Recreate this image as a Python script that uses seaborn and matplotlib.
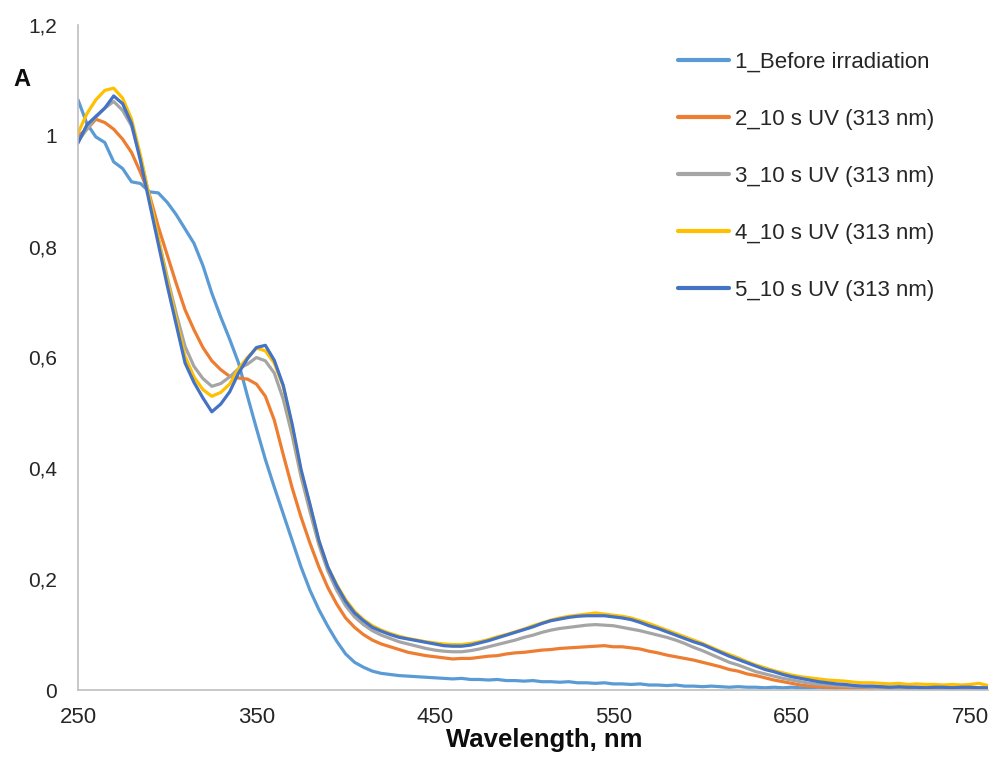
import numpy as np
import pandas as pd
import matplotlib
matplotlib.use("Agg")
import matplotlib.pyplot as plt
import seaborn as sns

# ---------------- data ----------------
wavelength = list(range(250, 761, 5))

before = [1.065, 1.022, 0.998, 0.988, 0.953, 0.941, 0.917, 0.914, 0.899, 0.897,
          0.880, 0.858, 0.832, 0.806, 0.766, 0.716, 0.673, 0.633, 0.590, 0.530,
          0.472, 0.416, 0.366, 0.318, 0.270, 0.222, 0.180, 0.145, 0.115, 0.088,
          0.065, 0.050, 0.041, 0.034, 0.030, 0.028, 0.026, 0.025, 0.024, 0.023,
          0.022, 0.021, 0.020, 0.021, 0.019, 0.019, 0.018, 0.019, 0.017, 0.017,
          0.016, 0.017, 0.015, 0.015, 0.014, 0.015, 0.013, 0.013, 0.012, 0.013,
          0.011, 0.011, 0.010, 0.011, 0.009, 0.009, 0.008, 0.009, 0.007, 0.007,
          0.006, 0.007, 0.006, 0.005, 0.006, 0.005, 0.005, 0.004, 0.005, 0.004,
          0.005, 0.004, 0.004, 0.005, 0.004, 0.003, 0.004, 0.003, 0.004, 0.003,
          0.004, 0.003, 0.003, 0.002, 0.003, 0.002, 0.003, 0.002, 0.002, 0.003,
          0.002, 0.002, 0.002]

uv2 = [1.000, 1.012, 1.030, 1.024, 1.012, 0.994, 0.970, 0.934, 0.894, 0.836,
       0.785, 0.734, 0.686, 0.650, 0.618, 0.594, 0.578, 0.566, 0.563, 0.561,
       0.552, 0.530, 0.487, 0.425, 0.365, 0.312, 0.265, 0.222, 0.185, 0.155,
       0.130, 0.113, 0.100, 0.090, 0.083, 0.078, 0.073, 0.068, 0.065, 0.062,
       0.060, 0.058, 0.056, 0.057, 0.057, 0.059, 0.061, 0.062, 0.065, 0.067,
       0.068, 0.070, 0.072, 0.073, 0.075, 0.076, 0.077, 0.078, 0.079, 0.080,
       0.078, 0.078, 0.076, 0.074, 0.070, 0.067, 0.063, 0.060, 0.057, 0.054,
       0.050, 0.046, 0.042, 0.037, 0.034, 0.029, 0.026, 0.022, 0.018, 0.015,
       0.012, 0.009, 0.007, 0.006, 0.005, 0.005, 0.004, 0.005, 0.004, 0.004,
       0.004, 0.003, 0.004, 0.003, 0.004, 0.003, 0.003, 0.004, 0.003, 0.003,
       0.004, 0.003, 0.003]

uv3 = [0.990, 1.012, 1.034, 1.050, 1.062, 1.046, 1.018, 0.960, 0.890, 0.815,
       0.745, 0.680, 0.620, 0.584, 0.562, 0.548, 0.553, 0.565, 0.580, 0.588,
       0.600, 0.594, 0.572, 0.525, 0.460, 0.385, 0.322, 0.262, 0.215, 0.180,
       0.152, 0.132, 0.118, 0.107, 0.099, 0.093, 0.087, 0.083, 0.079, 0.075,
       0.072, 0.070, 0.069, 0.069, 0.071, 0.074, 0.078, 0.082, 0.086, 0.090,
       0.095, 0.099, 0.104, 0.108, 0.111, 0.113, 0.115, 0.117, 0.118, 0.117,
       0.116, 0.113, 0.110, 0.107, 0.103, 0.099, 0.095, 0.090, 0.084, 0.077,
       0.071, 0.064, 0.057, 0.050, 0.045, 0.039, 0.033, 0.029, 0.025, 0.021,
       0.018, 0.015, 0.012, 0.010, 0.009, 0.008, 0.007, 0.006, 0.006, 0.005,
       0.005, 0.005, 0.004, 0.005, 0.004, 0.004, 0.005, 0.004, 0.004, 0.004,
       0.004, 0.004, 0.004]

uv4 = [1.005, 1.040, 1.065, 1.082, 1.086, 1.068, 1.030, 0.965, 0.890, 0.815,
       0.740, 0.670, 0.602, 0.565, 0.542, 0.530, 0.537, 0.552, 0.580, 0.600,
       0.617, 0.612, 0.590, 0.548, 0.475, 0.395, 0.333, 0.268, 0.222, 0.190,
       0.163, 0.142, 0.127, 0.116, 0.108, 0.102, 0.097, 0.093, 0.090, 0.087,
       0.085, 0.083, 0.082, 0.082, 0.084, 0.087, 0.091, 0.096, 0.100, 0.105,
       0.110, 0.116, 0.121, 0.126, 0.130, 0.133, 0.135, 0.137, 0.139, 0.137,
       0.135, 0.133, 0.130, 0.125, 0.120, 0.114, 0.108, 0.102, 0.096, 0.090,
       0.084, 0.077, 0.070, 0.064, 0.058, 0.051, 0.045, 0.040, 0.035, 0.031,
       0.027, 0.024, 0.022, 0.020, 0.018, 0.017, 0.016, 0.014, 0.013, 0.013,
       0.012, 0.011, 0.012, 0.010, 0.011, 0.010, 0.010, 0.009, 0.010, 0.009,
       0.010, 0.012, 0.008]

uv5 = [0.987, 1.020, 1.035, 1.050, 1.072, 1.058, 1.022, 0.955, 0.880, 0.805,
       0.730, 0.660, 0.590, 0.555, 0.527, 0.502, 0.516, 0.538, 0.572, 0.598,
       0.618, 0.622, 0.595, 0.550, 0.480, 0.398, 0.335, 0.270, 0.222, 0.188,
       0.160, 0.139, 0.125, 0.113, 0.106, 0.100, 0.095, 0.092, 0.089, 0.086,
       0.083, 0.080, 0.079, 0.079, 0.081, 0.085, 0.089, 0.094, 0.099, 0.104,
       0.109, 0.114, 0.120, 0.125, 0.128, 0.131, 0.133, 0.134, 0.134, 0.134,
       0.132, 0.130, 0.127, 0.122, 0.116, 0.111, 0.105, 0.099, 0.093, 0.087,
       0.082, 0.075, 0.068, 0.061, 0.055, 0.049, 0.043, 0.037, 0.033, 0.028,
       0.024, 0.021, 0.018, 0.015, 0.013, 0.011, 0.010, 0.008, 0.007, 0.007,
       0.006, 0.005, 0.006, 0.005, 0.005, 0.004, 0.005, 0.005, 0.004, 0.005,
       0.005, 0.004, 0.004]

series_names = ["1_Before irradiation", "2_10 s UV (313 nm)", "3_10 s UV (313 nm)",
                "4_10 s UV (313 nm)", "5_10 s UV (313 nm)"]
series_values = [before, uv2, uv3, uv4, uv5]
colors = ["#5B9BD5", "#ED7D31", "#A5A5A5", "#FFC000", "#4472C4"]

x_ticks = [250, 350, 450, 550, 650, 750]
y_ticks = [0, 0.2, 0.4, 0.6, 0.8, 1.0, 1.2]
y_tick_labels = ["0", "0,2", "0,4", "0,6", "0,8", "1", "1,2"]

# ---------------- build long table ----------------
frames = []
for name, vals in zip(series_names, series_values):
    frames.append(pd.DataFrame({"Wavelength": wavelength, "A": vals, "series": name}))
df = pd.concat(frames, ignore_index=True)

# ---------------- plot ----------------
sns.set_style("white")
plt.rcParams["font.family"] = ["Liberation Sans", "DejaVu Sans"]

fig = plt.figure(figsize=(9.95, 7.6), dpi=100)
ax = fig.add_axes([78 / 995, 70 / 760, 910 / 995, 665 / 760])

sns.lineplot(data=df, x="Wavelength", y="A", hue="series", hue_order=series_names,
             palette=colors, linewidth=2.3, sort=False, estimator=None, ax=ax)

ax.set_xlim(250, 760)
ax.set_ylim(0, 1.2)
ax.set_xticks(x_ticks)
ax.set_xticklabels([str(t) for t in x_ticks])
ax.set_yticks(y_ticks)
ax.set_yticklabels(y_tick_labels)
ax.tick_params(axis="both", length=0, colors="#262626")
ax.tick_params(axis="x", labelsize=16, pad=12)
ax.tick_params(axis="y", labelsize=15, pad=15)

for side in ["top", "right"]:
    ax.spines[side].set_visible(False)
for side in ["left", "bottom"]:
    ax.spines[side].set_color("#BFBFBF")
    ax.spines[side].set_linewidth(1.2)

ax.set_xlabel("")
ax.set_ylabel("")
fig.text(544 / 995, 1 - 740 / 760, "Wavelength, nm", ha="center", va="center",
         fontsize=18.5, fontweight="bold", color="#0d0d0d")
fig.text(22 / 995, 1 - 79 / 760, "A", ha="center", va="center",
         fontsize=17, fontweight="bold", color="#0d0d0d")

leg = ax.legend(loc="upper left", bbox_to_anchor=(678 / 995, 1 - 52 / 760),
                bbox_transform=fig.transFigure, frameon=False, fontsize=16,
                borderpad=0, handlelength=2.3, handletextpad=0.27,
                labelspacing=1.62, borderaxespad=0)
for line in leg.get_lines():
    line.set_linewidth(3)
for t in leg.get_texts():
    t.set_color("#262626")

fig.savefig("out.png", dpi=100)
